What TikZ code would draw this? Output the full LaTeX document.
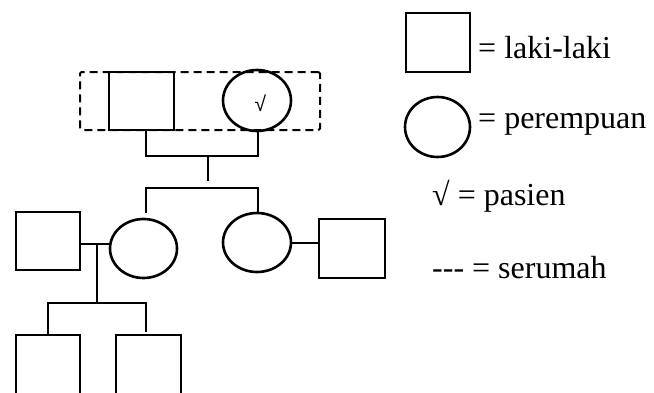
\documentclass[tikz,border=0pt]{standalone}
\usepackage{fontspec}
\setmainfont{Liberation Serif}
\newfontfamily\checkfont{Liberation Sans}
\usetikzlibrary{shapes.geometric,calc}
\tikzset{
  male/.style={draw,rectangle,line width=2.6pt,inner sep=0pt},
  female/.style={draw,ellipse,line width=2.6pt,inner sep=0pt},
  link/.style={line width=1.4pt},
  house/.style={draw,dashed,line width=2pt,dash pattern=on 8pt off 5pt,rounded corners=1.5pt},
  legtext/.style={anchor=base west,inner sep=0pt,font=\fontsize{32}{38}\selectfont}
}
\begin{document}
\begin{tikzpicture}[x=1pt,y=-1pt]
\useasboundingbox (0,0) rectangle (654,392);
\clip (0,0) rectangle (654,392);
% household
\node[house,minimum width=240pt,minimum height=58pt] (hh) at (200,101) {};
\node[male,minimum width=65pt,minimum height=58pt] (f) at (141.5,101) {};
\node[female,minimum width=68pt,minimum height=61pt] (m) at (257,100.5) {};
\node[inner sep=0pt,font=\checkfont\fontsize{21}{21}\selectfont] (chk) at (260.5,103) {√};
% second generation
\node[female,minimum width=67pt,minimum height=59pt] (d1) at (143.5,248.5) {};
\node[female,minimum width=68pt,minimum height=59pt] (d2) at (257,242.5) {};
\node[male,minimum width=64pt,minimum height=58pt] (h1) at (48,241) {};
\node[male,minimum width=66pt,minimum height=59pt] (h2) at (352,248.5) {};
% third generation (cut off by the lower edge)
\node[male,minimum width=64pt,minimum height=66pt] (c1) at (48,368) {};
\node[male,minimum width=65pt,minimum height=66pt] (c2) at (148.5,368) {};
% coordinates
\coordinate (mar) at (208,156);
\coordinate (sib) at (208,181);
\coordinate (sl) at (146,188);
\coordinate (sr) at (258,188);
\coordinate (sle) at (146,213);
\coordinate (m1) at (97,244);
\coordinate (m2) at (305,243);
\coordinate (kid) at (97,303);
\coordinate (kl) at (48,303);
\coordinate (kr) at (146,303);
\coordinate (kre) at (146,332);
% connectors
\draw[link] ($(f.south)+(4.5,0)$) |- (mar) -| ($(m.south)+(1,0)$);
\draw[link] (mar) -- (sib);
\draw[link] (sle) -- (sl) -- (sr) -- (d2.north -| sr);
\draw[link] (h1.east |- m1) -- (d1.west |- m1);
\draw[link] (m1) -- (kid);
\draw[link] (c1.north) -- (kl) -- (kr) -- (kre);
\draw[link] (d2.east |- m2) -- (h2.west |- m2);
% legend
\node[male,minimum width=64pt,minimum height=59pt] (lm) at (438,42.5) {};
\node[female,minimum width=65pt,minimum height=60pt] (lf) at (437.5,127) {};
\node[legtext] (t1) at (478,58) {= laki-laki};
\node[legtext] (t2) at (478,128) {= perempuan};
\node[legtext] (t3) at (432,205) {√ = pasien};
\node[legtext] (t4) at (432,278) {-{}-{}- = serumah};
\end{tikzpicture}
\end{document}
